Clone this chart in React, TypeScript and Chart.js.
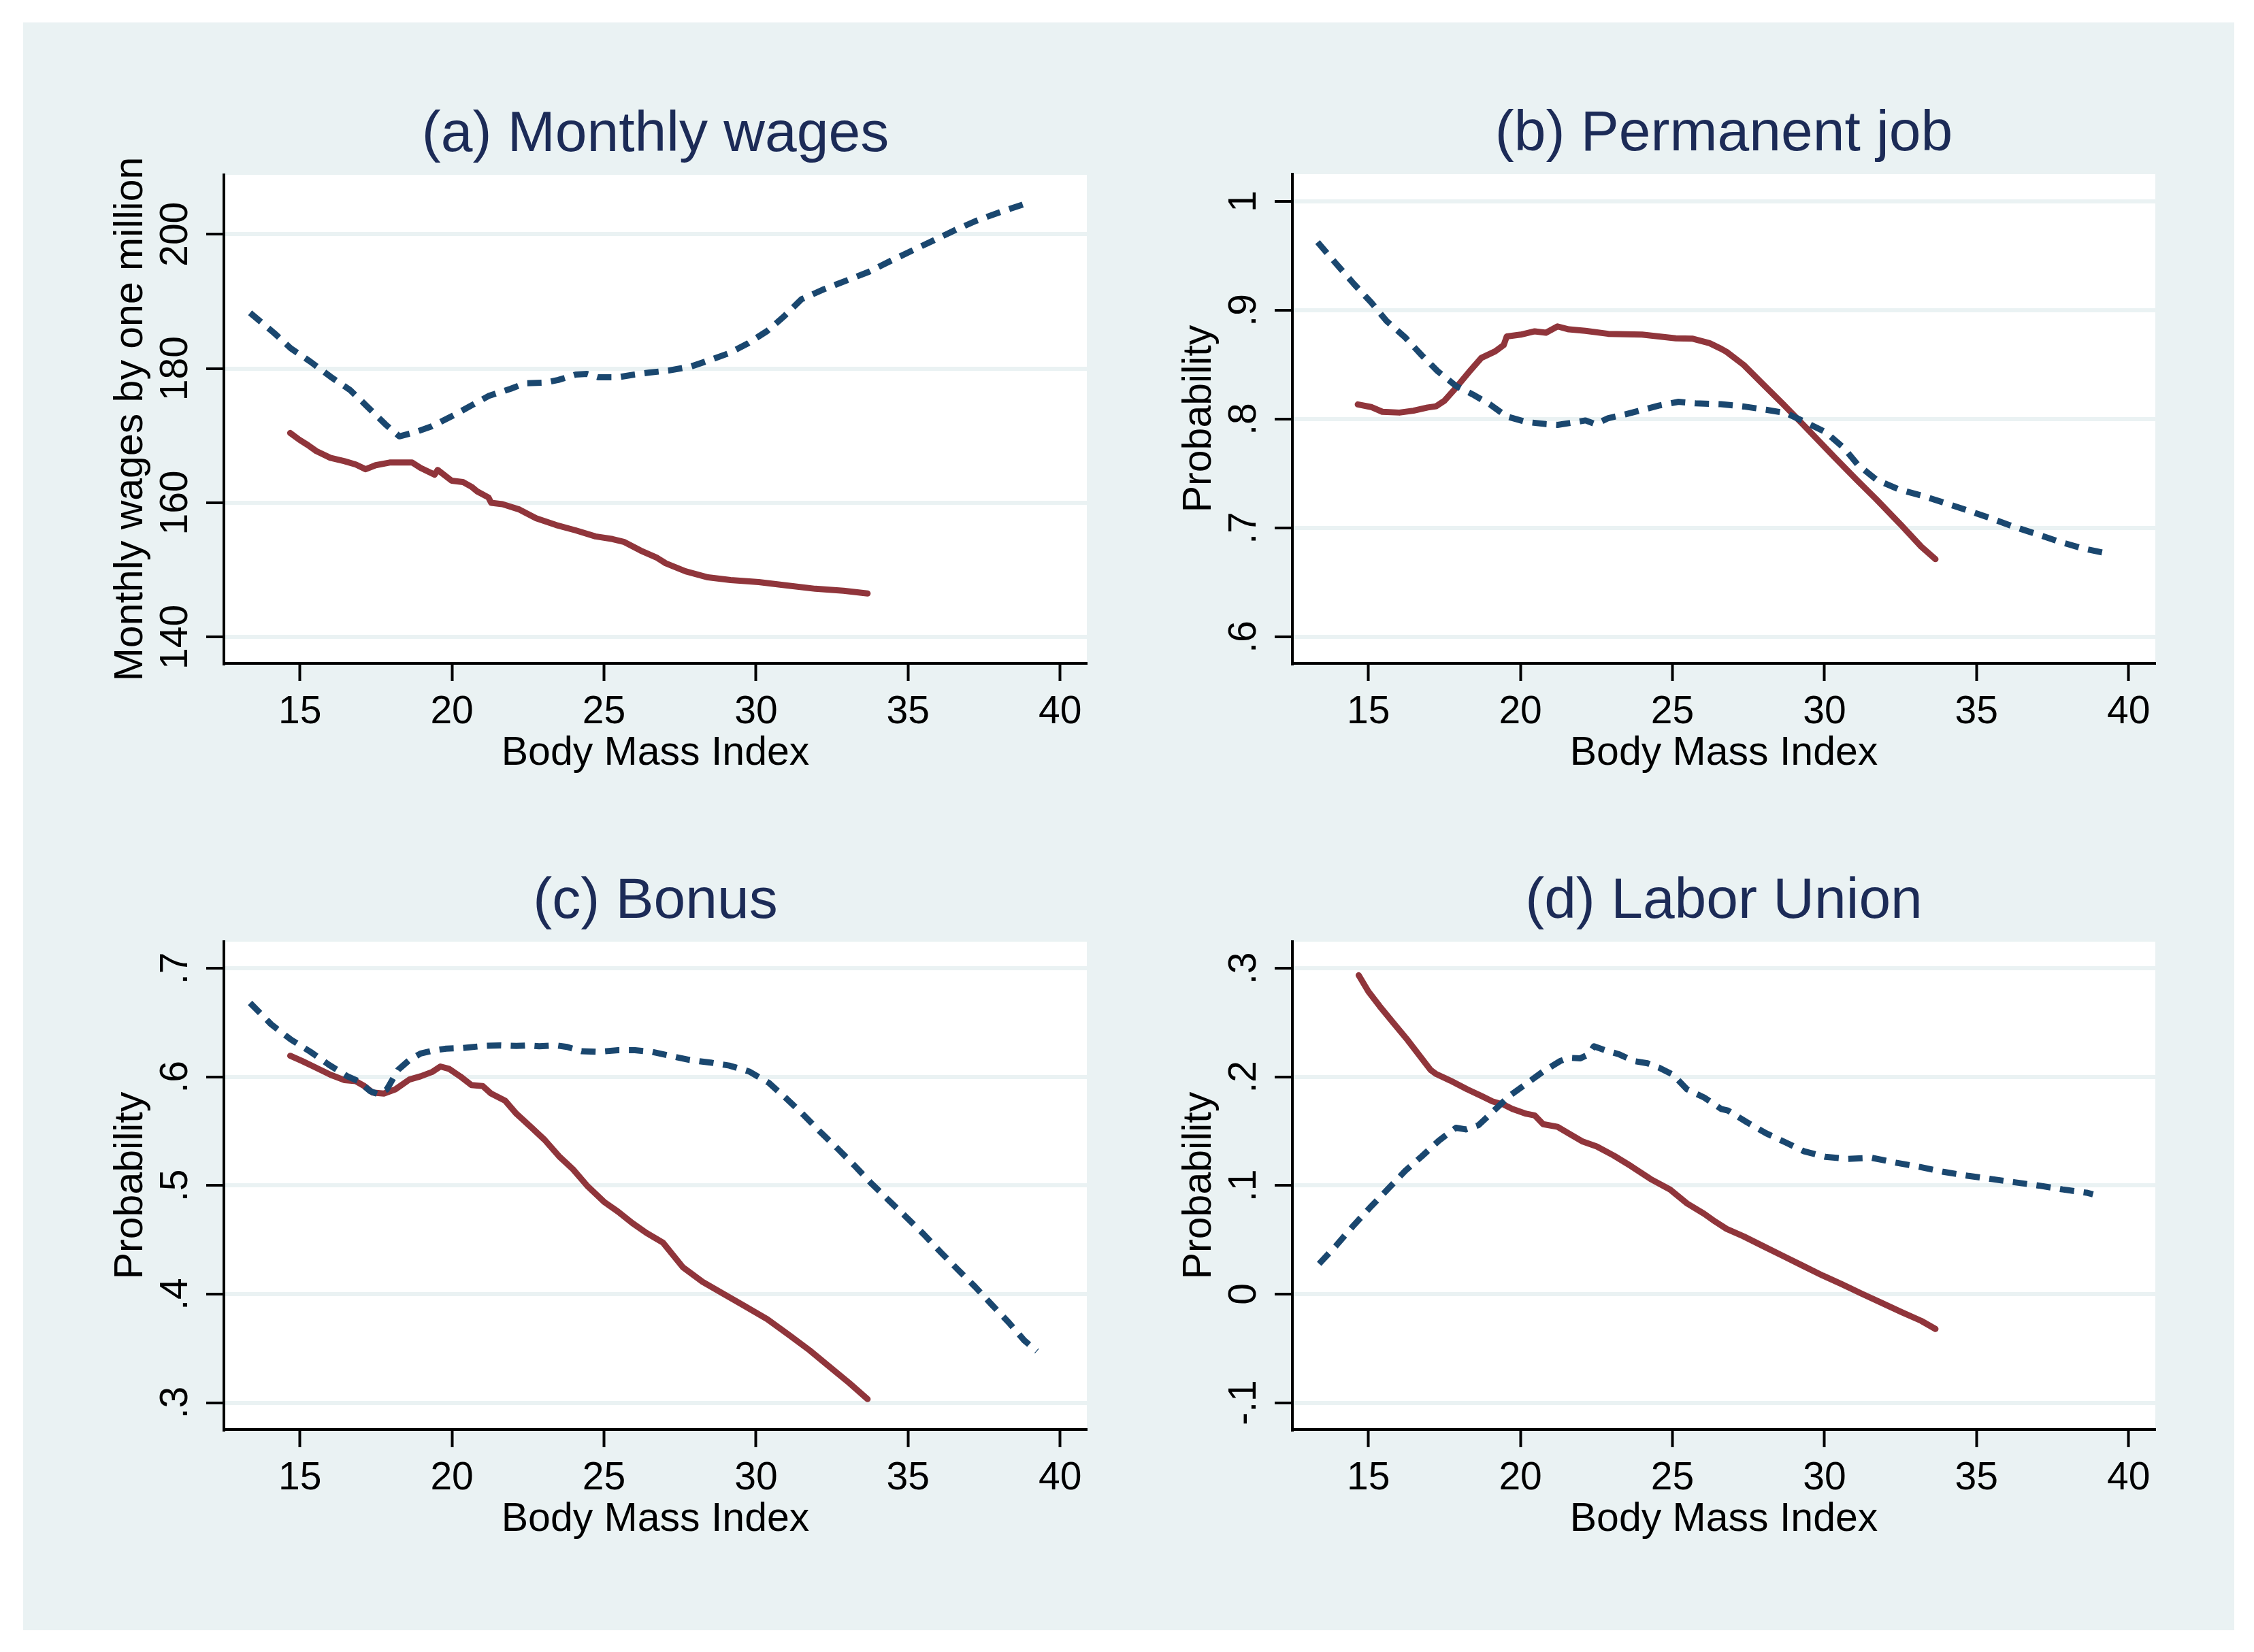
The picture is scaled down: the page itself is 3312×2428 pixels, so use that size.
import React, { useEffect, useRef } from "react";
import { Chart, registerables } from "chart.js";

Chart.register(...registerables);

// ---------- shared axis data ----------
const xTickValues = [15, 20, 25, 30, 35, 40];
const xTickLabels = ["15", "20", "25", "30", "35", "40"];
const xTitle = "Body Mass Index";

// ---------- (a) Monthly wages ----------
const aTitle = "(a) Monthly wages";
const aYTitle = "Monthly wages by one million";
const aYTickValues = [140, 160, 180, 200];
const aYTickLabels = ["140", "160", "180", "200"];
const aBlueX = [13.36, 14.15, 14.7, 15.35, 16.0, 16.65, 17.2, 17.81, 18.27, 18.78, 19.34, 20.08, 20.64, 21.2, 21.94, 22.4, 23.05, 23.5, 24.07, 24.44, 24.81, 25.46, 26.0, 26.5, 27.12, 27.86, 28.51, 29.12, 29.72, 30.37, 30.93, 31.49, 32.23, 32.97, 33.71, 34.46, 35.2, 35.85, 36.59, 37.24, 38.03, 38.77, 38.96];
const aBlueY = [188.3, 185.3, 183.0, 181.0, 178.8, 176.8, 174.4, 171.7, 169.9, 170.5, 171.4, 173.1, 174.5, 175.9, 177.0, 177.8, 177.9, 178.3, 179.1, 179.2, 178.7, 178.7, 179.1, 179.4, 179.7, 180.3, 181.3, 182.3, 183.7, 185.6, 187.8, 190.3, 191.8, 193.1, 194.4, 196.1, 197.7, 199.1, 200.7, 202.0, 203.3, 204.4, 204.7];
const aRedX = [14.68, 14.98, 15.26, 15.54, 16.0, 16.47, 16.84, 17.16, 17.49, 17.95, 18.41, 18.69, 18.97, 19.43, 19.53, 19.99, 20.36, 20.64, 20.83, 21.2, 21.29, 21.66, 22.22, 22.77, 23.42, 24.07, 24.72, 25.28, 25.65, 26.2, 26.75, 27.03, 27.68, 28.42, 29.16, 30.09, 31.02, 31.95, 32.88, 33.67];
const aRedY = [170.4, 169.4, 168.6, 167.7, 166.7, 166.2, 165.7, 165.0, 165.6, 166.0, 166.0, 166.0, 165.2, 164.2, 164.9, 163.3, 163.1, 162.4, 161.7, 160.8, 160.0, 159.8, 159.0, 157.7, 156.7, 155.9, 155.0, 154.6, 154.2, 152.9, 151.8, 151.0, 149.8, 148.9, 148.5, 148.2, 147.7, 147.2, 146.9, 146.5];

// ---------- (b) Permanent job ----------
const bTitle = "(b) Permanent job";
const bYTitle = "Probability";
const bYTickValues = [0.6, 0.7, 0.8, 0.9, 1.0];
const bYTickLabels = [".6", ".7", ".8", ".9", "1"];
const bBlueX = [13.33, 13.93, 14.54, 15.09, 15.6, 16.21, 16.76, 17.27, 17.88, 18.43, 18.99, 19.55, 20.19, 20.84, 21.22, 21.77, 22.14, 22.47, 22.89, 23.44, 24.0, 24.55, 25.2, 25.76, 26.59, 27.34, 28.08, 28.73, 29.38, 30.03, 30.63, 31.1, 31.7, 32.44, 33.23, 33.97, 34.72, 35.46, 36.2, 36.99, 37.73, 38.48, 39.17];
const bBlueY = [0.9625, 0.943, 0.9236, 0.9072, 0.89, 0.875, 0.8585, 0.8442, 0.8305, 0.8227, 0.8136, 0.8024, 0.7974, 0.7954, 0.7947, 0.797, 0.7988, 0.7954, 0.8009, 0.8043, 0.8084, 0.8124, 0.8159, 0.8145, 0.8137, 0.8116, 0.8086, 0.8056, 0.7971, 0.7881, 0.7737, 0.758, 0.7445, 0.7355, 0.7295, 0.7229, 0.716, 0.709, 0.7015, 0.6943, 0.6874, 0.6814, 0.6774];
const bRedX = [14.65, 15.09, 15.46, 16.02, 16.48, 16.95, 17.23, 17.5, 17.88, 18.34, 18.71, 19.17, 19.45, 19.55, 20.01, 20.47, 20.84, 21.22, 21.59, 22.14, 22.89, 24.0, 25.11, 25.67, 26.22, 26.6, 26.78, 27.34, 27.99, 28.64, 29.38, 30.31, 31.05, 31.7, 32.53, 33.18, 33.65];
const bRedY = [0.8135, 0.8111, 0.8067, 0.806, 0.8077, 0.8107, 0.8118, 0.8169, 0.8288, 0.8442, 0.8561, 0.8622, 0.868, 0.8759, 0.8776, 0.8806, 0.8793, 0.8851, 0.8824, 0.881, 0.8783, 0.8776, 0.8742, 0.8738, 0.8697, 0.8646, 0.8618, 0.8498, 0.8317, 0.8137, 0.7926, 0.7656, 0.7445, 0.7265, 0.7024, 0.6829, 0.6714];

// ---------- (c) Bonus ----------
const cTitle = "(c) Bonus";
const cYTitle = "Probability";
const cYTickValues = [0.3, 0.4, 0.5, 0.6, 0.7];
const cYTickLabels = [".3", ".4", ".5", ".6", ".7"];
const cBlueX = [13.36, 14.05, 14.7, 15.35, 15.96, 16.56, 16.93, 17.3, 17.58, 17.86, 18.23, 18.6, 18.97, 19.43, 19.81, 20.36, 21.01, 21.57, 22.12, 22.5, 22.87, 23.42, 23.79, 24.26, 24.81, 25.46, 26.02, 26.58, 27.08, 27.82, 28.51, 29.12, 29.77, 30.42, 31.02, 31.58, 32.14, 32.7, 33.25, 33.81, 34.36, 34.92, 35.52, 36.08, 36.64, 37.2, 37.75, 38.31, 38.82, 39.24];
const cBlueY = [0.6682, 0.6486, 0.6345, 0.6231, 0.6111, 0.6006, 0.5961, 0.5871, 0.5841, 0.5886, 0.6066, 0.6156, 0.6216, 0.6246, 0.6261, 0.6267, 0.6285, 0.6291, 0.6285, 0.6291, 0.6282, 0.6291, 0.6276, 0.6237, 0.6231, 0.6246, 0.6246, 0.6231, 0.6201, 0.6156, 0.6132, 0.6105, 0.6051, 0.5946, 0.5796, 0.5646, 0.5486, 0.5336, 0.518, 0.5015, 0.4865, 0.4715, 0.455, 0.4384, 0.4225, 0.4069, 0.3904, 0.3739, 0.3574, 0.3474];
const cRedX = [14.68, 15.07, 15.45, 16.0, 16.47, 16.84, 17.12, 17.39, 17.76, 18.14, 18.6, 18.97, 19.34, 19.62, 19.9, 20.27, 20.64, 21.01, 21.29, 21.75, 22.12, 22.59, 23.05, 23.52, 23.98, 24.44, 25.0, 25.46, 25.93, 26.39, 26.94, 27.59, 28.24, 28.89, 29.63, 30.37, 31.11, 31.76, 32.41, 33.06, 33.67];
const cRedY = [0.6195, 0.6147, 0.6096, 0.6021, 0.597, 0.5961, 0.5916, 0.5856, 0.5847, 0.5886, 0.5976, 0.6006, 0.6045, 0.6096, 0.6075, 0.6006, 0.5925, 0.5916, 0.5847, 0.5781, 0.5661, 0.5541, 0.542, 0.527, 0.515, 0.5, 0.485, 0.476, 0.4655, 0.4565, 0.4474, 0.4249, 0.4114, 0.4009, 0.3889, 0.3769, 0.3619, 0.3483, 0.3333, 0.3183, 0.3033];

// ---------- (d) Labor Union ----------
const dTitle = "(d) Labor Union";
const dYTitle = "Probability";
const dYTickValues = [-0.1, 0, 0.1, 0.2, 0.3];
const dYTickLabels = ["-.1", "0", ".1", ".2", ".3"];
const dBlueX = [13.38, 13.93, 14.49, 15.05, 15.65, 16.21, 16.76, 17.32, 17.88, 18.2, 18.62, 19.08, 19.64, 20.19, 20.75, 21.31, 21.59, 21.96, 22.24, 22.42, 22.79, 23.26, 23.72, 24.18, 24.55, 25.02, 25.48, 26.04, 26.6, 26.82, 27.43, 28.08, 28.73, 29.33, 30.03, 30.77, 31.56, 32.35, 33.14, 33.91, 34.7, 35.49, 36.25, 37.04, 37.83, 38.62, 38.83];
const dBlueY = [0.0279, 0.0444, 0.0625, 0.0796, 0.097, 0.1135, 0.127, 0.1414, 0.1532, 0.1517, 0.1556, 0.1676, 0.1826, 0.1937, 0.2051, 0.2147, 0.2177, 0.2171, 0.2207, 0.2282, 0.2246, 0.2207, 0.2147, 0.2126, 0.2087, 0.2021, 0.1886, 0.1811, 0.1706, 0.1691, 0.1586, 0.1481, 0.1396, 0.1315, 0.1264, 0.1246, 0.1255, 0.121, 0.1171, 0.1126, 0.109, 0.106, 0.103, 0.1, 0.0964, 0.0934, 0.0919];
const dRedX = [14.68, 15.0, 15.37, 15.83, 16.3, 16.67, 17.04, 17.23, 17.69, 18.25, 18.71, 19.08, 19.45, 19.73, 20.19, 20.47, 20.75, 21.22, 21.59, 22.05, 22.51, 23.07, 23.63, 24.28, 24.92, 25.48, 26.04, 26.41, 26.78, 27.34, 27.99, 28.64, 29.29, 29.94, 30.58, 31.23, 31.88, 32.53, 33.18, 33.65];
const dRedY = [0.2937, 0.2787, 0.2652, 0.2495, 0.2336, 0.2201, 0.2066, 0.2027, 0.1967, 0.1886, 0.1826, 0.1775, 0.1745, 0.1706, 0.1661, 0.1646, 0.1565, 0.1541, 0.148, 0.1405, 0.136, 0.1276, 0.118, 0.106, 0.0964, 0.0835, 0.074, 0.0667, 0.0601, 0.0532, 0.0441, 0.0351, 0.0261, 0.0171, 0.009, 0.0003, -0.0081, -0.0165, -0.0246, -0.0321];

// ---------- styling / geometry (not data) ----------
const FONT = "'Liberation Sans', Arial, Helvetica, sans-serif";
const TICK_FS = 57;
const AXIS_FS = 59;
const TITLE_FS = 84;
const TICK_LEN = 26;
const NAVY = "#1a476f";
const MAROON = "#90353b";
const TITLE_COLOR = "#1c2b57";
const BG = "#eaf2f3";
const X_MIN = 12.5;
const X_MAX = 40.88;
const LINE_W = 9;

const Y_AXIS_W = 171.4; // y-title centre 136px left of axis
const X_AXIS_H = 168.4; // x-title centre 133px below axis
const TITLE_PAD_BOTTOM = 7.6;
const TITLE_BOX = TITLE_FS * 1.2 + TITLE_PAD_BOTTOM;

type PanelDef = {
  title: string; yTitle: string; yMin: number; yMax: number;
  yTicks: number[]; yLabels: string[];
  blueX: number[]; blueY: number[]; redX: number[]; redY: number[];
  box: number[]; area: number[];
};

const panels: PanelDef[] = [
  { title: aTitle, yTitle: aYTitle, yMin: 136.09, yMax: 208.84, yTicks: aYTickValues, yLabels: aYTickLabels,
    blueX: aBlueX, blueY: aBlueY, redX: aRedX, redY: aRedY,
    box: [40, 40, 1650, 1200], area: [329, 257, 1597, 975] },
  { title: bTitle, yTitle: bYTitle, yMin: 0.5757, yMax: 1.0249, yTicks: bYTickValues, yLabels: bYTickLabels,
    blueX: bBlueX, blueY: bBlueY, redX: bRedX, redY: bRedY,
    box: [1700, 40, 3270, 1200], area: [1899, 256, 3167, 975] },
  { title: cTitle, yTitle: cYTitle, yMin: 0.2753, yMax: 0.7246, yTicks: cYTickValues, yLabels: cYTickLabels,
    blueX: cBlueX, blueY: cBlueY, redX: cRedX, redY: cRedY,
    box: [40, 1220, 1650, 2380], area: [329, 1384, 1597, 2101] },
  { title: dTitle, yTitle: dYTitle, yMin: -0.1247, yMax: 0.3246, yTicks: dYTickValues, yLabels: dYTickLabels,
    blueX: dBlueX, blueY: dBlueY, redX: dRedX, redY: dRedY,
    box: [1700, 1220, 3270, 2380], area: [1899, 1384, 3167, 2101] },
];

const plotBackground = {
  id: "plotBackground",
  beforeDraw(chart: any) {
    const { ctx, chartArea } = chart;
    if (!chartArea) return;
    ctx.save();
    ctx.fillStyle = "#ffffff";
    ctx.fillRect(chartArea.left, chartArea.top, chartArea.right - chartArea.left, chartArea.bottom - chartArea.top);
    ctx.restore();
  },
};

function measureWidest(labels: string[]): number {
  const c = document.createElement("canvas");
  const ctx = c.getContext("2d");
  if (!ctx) return 0;
  ctx.font = `${TICK_FS}px ${FONT}`;
  return Math.max(...labels.map((l) => ctx.measureText(l).width));
}

function Panel({ p }: { p: PanelDef }) {
  const ref = useRef<HTMLCanvasElement | null>(null);
  const [x0, y0, x1, y1] = p.box;
  const [L, T, R, B] = p.area;
  const w = x1 - x0;
  const h = y1 - y0;

  useEffect(() => {
    if (!ref.current) return;
    const widest = measureWidest(p.yLabels);
    const yLabelPad = 70 - TICK_LEN - widest / 2;
    const tickFont = { family: FONT, size: TICK_FS, lineHeight: 1.2 };
    const axisFont = { family: FONT, size: AXIS_FS, lineHeight: 1.2 };

    const chart = new Chart(ref.current, {
      type: "line",
      data: {
        datasets: [
          {
            data: p.blueX.map((x, i) => ({ x, y: p.blueY[i] })),
            borderColor: NAVY,
            borderWidth: LINE_W,
            borderDash: [21, 14],
            pointRadius: 0,
            fill: false,
            tension: 0,
            borderJoinStyle: "round",
          },
          {
            data: p.redX.map((x, i) => ({ x, y: p.redY[i] })),
            borderColor: MAROON,
            borderWidth: LINE_W,
            pointRadius: 0,
            fill: false,
            tension: 0,
            borderJoinStyle: "round",
            borderCapStyle: "round",
          },
        ],
      },
      options: {
        animation: false,
        responsive: false,
        devicePixelRatio: 1,
        events: [],
        layout: {
          padding: {
            left: L - x0 - Y_AXIS_W,
            right: x1 - R,
            top: T - y0 - TITLE_BOX,
            bottom: y1 - B - X_AXIS_H,
          },
        },
        plugins: {
          legend: { display: false },
          tooltip: { enabled: false },
          title: {
            display: true,
            text: p.title,
            color: TITLE_COLOR,
            fullSize: false,
            font: { family: FONT, size: TITLE_FS, weight: "normal", lineHeight: 1.2 },
            padding: { top: 0, bottom: TITLE_PAD_BOTTOM },
          },
        },
        scales: {
          x: {
            type: "linear",
            min: X_MIN,
            max: X_MAX,
            afterBuildTicks: (s: any) => {
              s.ticks = xTickValues.map((v) => ({ value: v }));
            },
            afterFit: (s: any) => {
              s.height = X_AXIS_H;
            },
            ticks: {
              autoSkip: false,
              maxRotation: 0,
              minRotation: 0,
              padding: 72.5 - TICK_LEN - (TICK_FS * 1.2) / 2,
              color: "#000",
              font: tickFont,
              callback: (_v: any, i: number) => xTickLabels[i],
            },
            grid: {
              drawOnChartArea: false,
              drawTicks: true,
              tickLength: TICK_LEN,
              tickWidth: 4,
              tickColor: "#000",
            },
            border: { display: true, color: "#000", width: 4 },
            title: { display: true, text: xTitle, color: "#000", font: axisFont, padding: 0 },
          },
          y: {
            type: "linear",
            min: p.yMin,
            max: p.yMax,
            afterBuildTicks: (s: any) => {
              s.ticks = p.yTicks.map((v) => ({ value: v }));
            },
            afterFit: (s: any) => {
              s.width = Y_AXIS_W;
            },
            ticks: {
              autoSkip: false,
              minRotation: 90,
              maxRotation: 90,
              crossAlign: "center",
              padding: yLabelPad,
              color: "#000",
              font: tickFont,
              callback: (_v: any, i: number) => p.yLabels[i],
            },
            grid: {
              drawOnChartArea: true,
              color: BG,
              lineWidth: 6,
              drawTicks: true,
              tickLength: TICK_LEN,
              tickWidth: 4,
              tickColor: "#000",
            },
            border: { display: true, color: "#000", width: 4 },
            title: { display: true, text: p.yTitle, color: "#000", font: axisFont, padding: 0 },
          },
        },
      },
      plugins: [plotBackground],
    } as any);
    return () => chart.destroy();
  }, []);

  return (
    <canvas
      ref={ref}
      width={w}
      height={h}
      style={{ position: "absolute", left: x0, top: y0, width: w, height: h }}
    />
  );
}

export default function App() {
  return (
    <div style={{ position: "absolute", left: 0, top: 0, width: 3312, height: 2428, background: "#ffffff", overflow: "hidden" }}>
      <div style={{ position: "absolute", left: 34, top: 33, width: 3249, height: 2363, background: BG }} />
      {panels.map((p, i) => (
        <Panel key={i} p={p} />
      ))}
    </div>
  );
}
